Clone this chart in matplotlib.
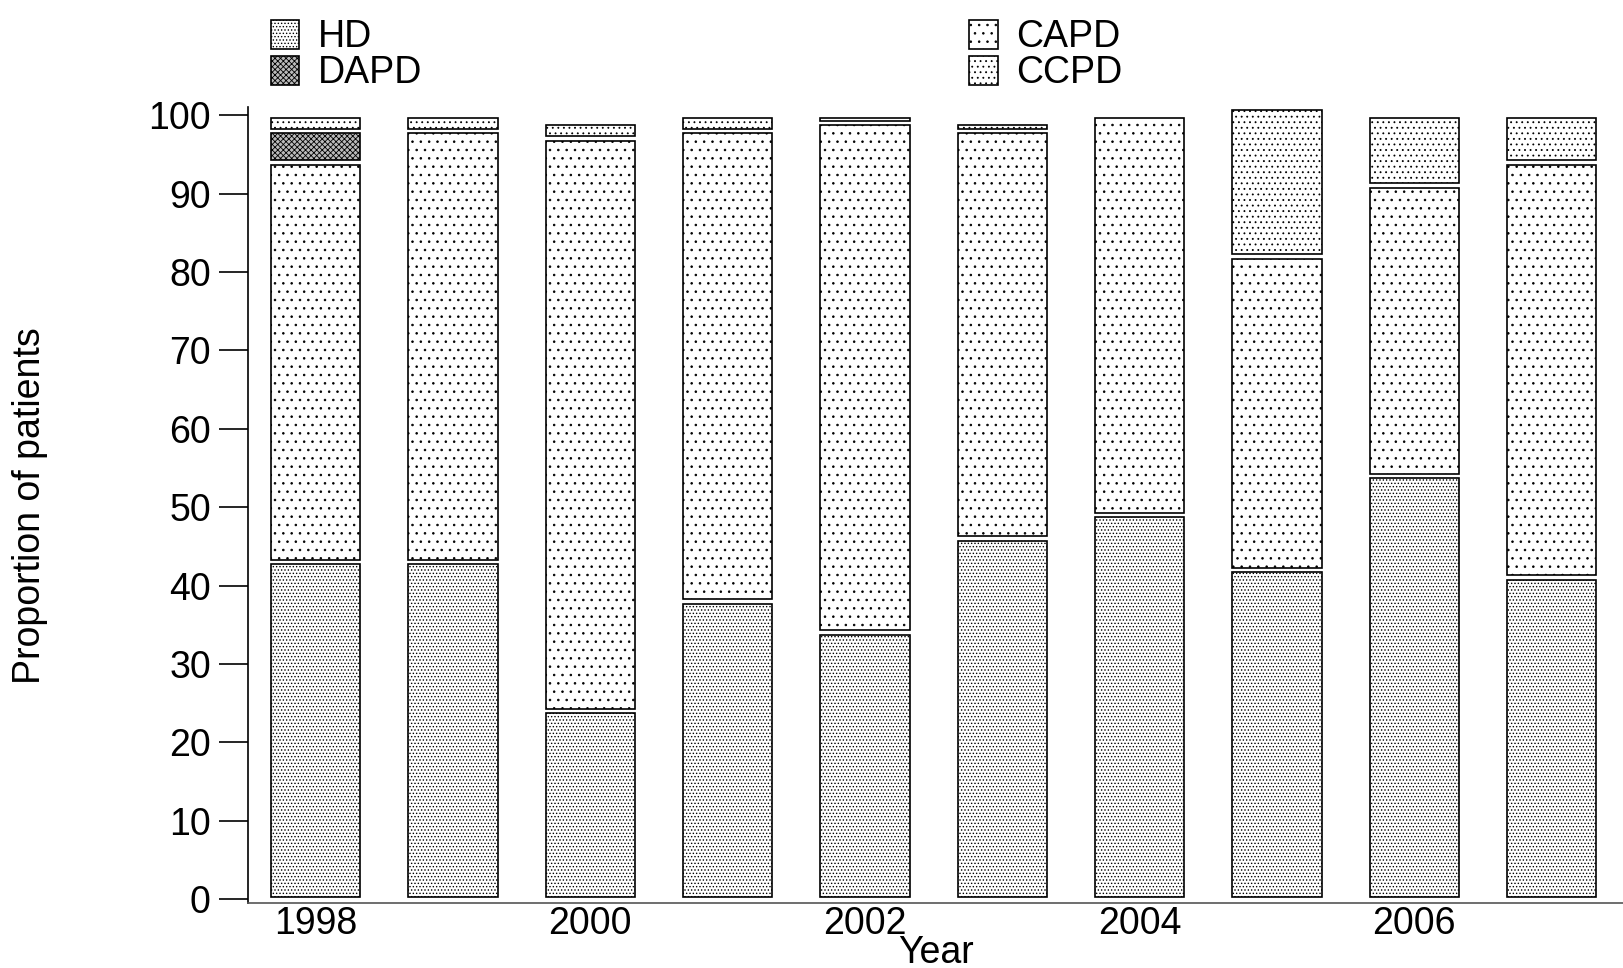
import matplotlib.pyplot as plt
import numpy as np

plt.rcParams['font.family'] = ['Liberation Sans', 'DejaVu Sans']
plt.rcParams['hatch.linewidth'] = 0.6

# --- data (percent of patients)
years = [1998, 1999, 2000, 2001, 2002, 2003, 2004, 2005, 2006, 2007]
hd   = [43, 43, 24, 38, 34, 46, 49, 42, 54, 41]
capd = [51, 55, 73, 60, 65, 52, 51, 40, 37, 53]
dapd = [4, 0, 0, 0, 0, 0, 0, 0, 0, 0]
ccpd = [2, 2, 2, 2, 1, 1, 0, 19, 9, 6]
tick_years = [1998, 2000, 2002, 2004, 2006]

series = [("HD", hd, ".....", "white"), ("CAPD", capd, "..", "white"),
          ("DAPD", dapd, "xxxxxx", "#bbbbbb"), ("CCPD", ccpd, "...", "white")]

fig = plt.figure(figsize=(16.23, 9.68), dpi=100)
ax = fig.add_axes([0.153, 0.067, 0.847, 0.822])

x = np.array(years)
bottom = np.zeros(len(years))
handles = {}
gap = 0.6  # small white gap between stacked segments
for name, vals, hatch, fc in series:
    vals = np.array(vals, dtype=float)
    bars = ax.bar(x, vals, 0.65, bottom=bottom, color=fc,
                  edgecolor="black", linewidth=1.2, hatch=hatch, label=name)
    for r, v in zip(bars, vals):
        if v > 0:
            r.set_y(r.get_y() + gap / 2)
            r.set_height(r.get_height() - gap)
        else:
            r.set_visible(False)
    handles[name] = bars
    bottom += vals

ax.set_xlim(1997.51, 2007.52)
ax.set_ylim(-0.5, 101)
ax.set_xticks(tick_years)
ax.set_yticks(range(0, 101, 10))
ax.tick_params(axis="x", length=0, labelsize=27, pad=2)
ax.tick_params(axis="y", length=21, width=1.2, labelsize=27, pad=6)
for s in ["top", "right"]:
    ax.spines[s].set_visible(False)
ax.spines["left"].set_linewidth(1.2)
ax.spines["bottom"].set_linewidth(1.2)
ax.spines["bottom"].set_color("#555555")

ax.set_xlabel("Year", fontsize=27, labelpad=-5)
ax.set_ylabel("Proportion of patients", fontsize=27, labelpad=72)

order = ["HD", "DAPD", "CAPD", "CCPD"]
fig.legend([handles[n][0] for n in order], order, ncol=2, loc="upper left",
           bbox_to_anchor=(0.146, 1.015), frameon=False, fontsize=27,
           handlelength=0.75, handleheight=0.8, handletextpad=0.5,
           labelspacing=0.0, columnspacing=14.6)

fig.savefig("out.png", dpi=100)
